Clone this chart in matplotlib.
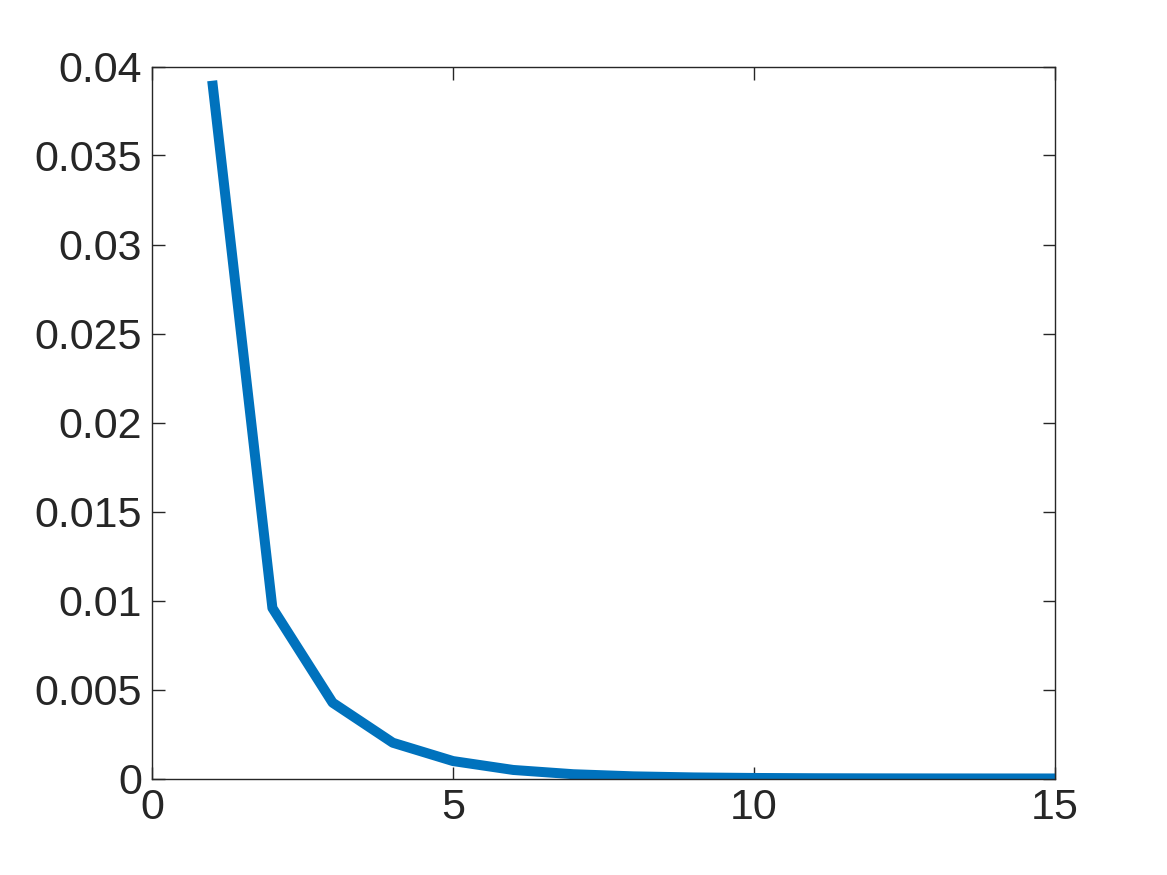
import numpy as np
import matplotlib.pyplot as plt

# values
iters = [1, 2, 3, 4, 5, 6, 7, 8, 9, 10, 11, 12, 13, 14, 15]
err = [0.0392, 0.00958, 0.00426, 0.00201, 0.00098, 0.00048, 0.00024, 0.00012,
       0.00006, 0.00003, 0.000015, 0.000008, 0.000004, 0.000002, 0.000001]

xticks = [0, 5, 10, 15]
yticks = [0, 0.005, 0.01, 0.015, 0.02, 0.025, 0.03, 0.035, 0.04]
ylabels = ['0', '0.005', '0.01', '0.015', '0.02', '0.025', '0.03', '0.035', '0.04']

plt.rcParams['font.family'] = ['Liberation Sans', 'DejaVu Sans']

fig = plt.figure(figsize=(11.67, 8.75), dpi=100)
ax = fig.add_axes([152/1167, 1 - 778.5/875, (1055-152)/1167, (778.5-66.5)/875])

ax.plot(iters, err, color='#0072BD', lw=7.2, solid_capstyle='butt')

ax.set_xlim(0, 15)
ax.set_ylim(0, 0.04)
ax.set_xticks(xticks)
ax.set_xticklabels([str(x) for x in xticks])
ax.set_yticks(yticks)
ax.set_yticklabels(ylabels)

tc = '#262626'
ax.tick_params(direction='in', length=9, width=1, top=True, right=True,
               labelsize=31, colors=tc, pad=7)
for s in ax.spines.values():
    s.set_color(tc)
    s.set_linewidth(1)

fig.savefig('out.png', dpi=100)
